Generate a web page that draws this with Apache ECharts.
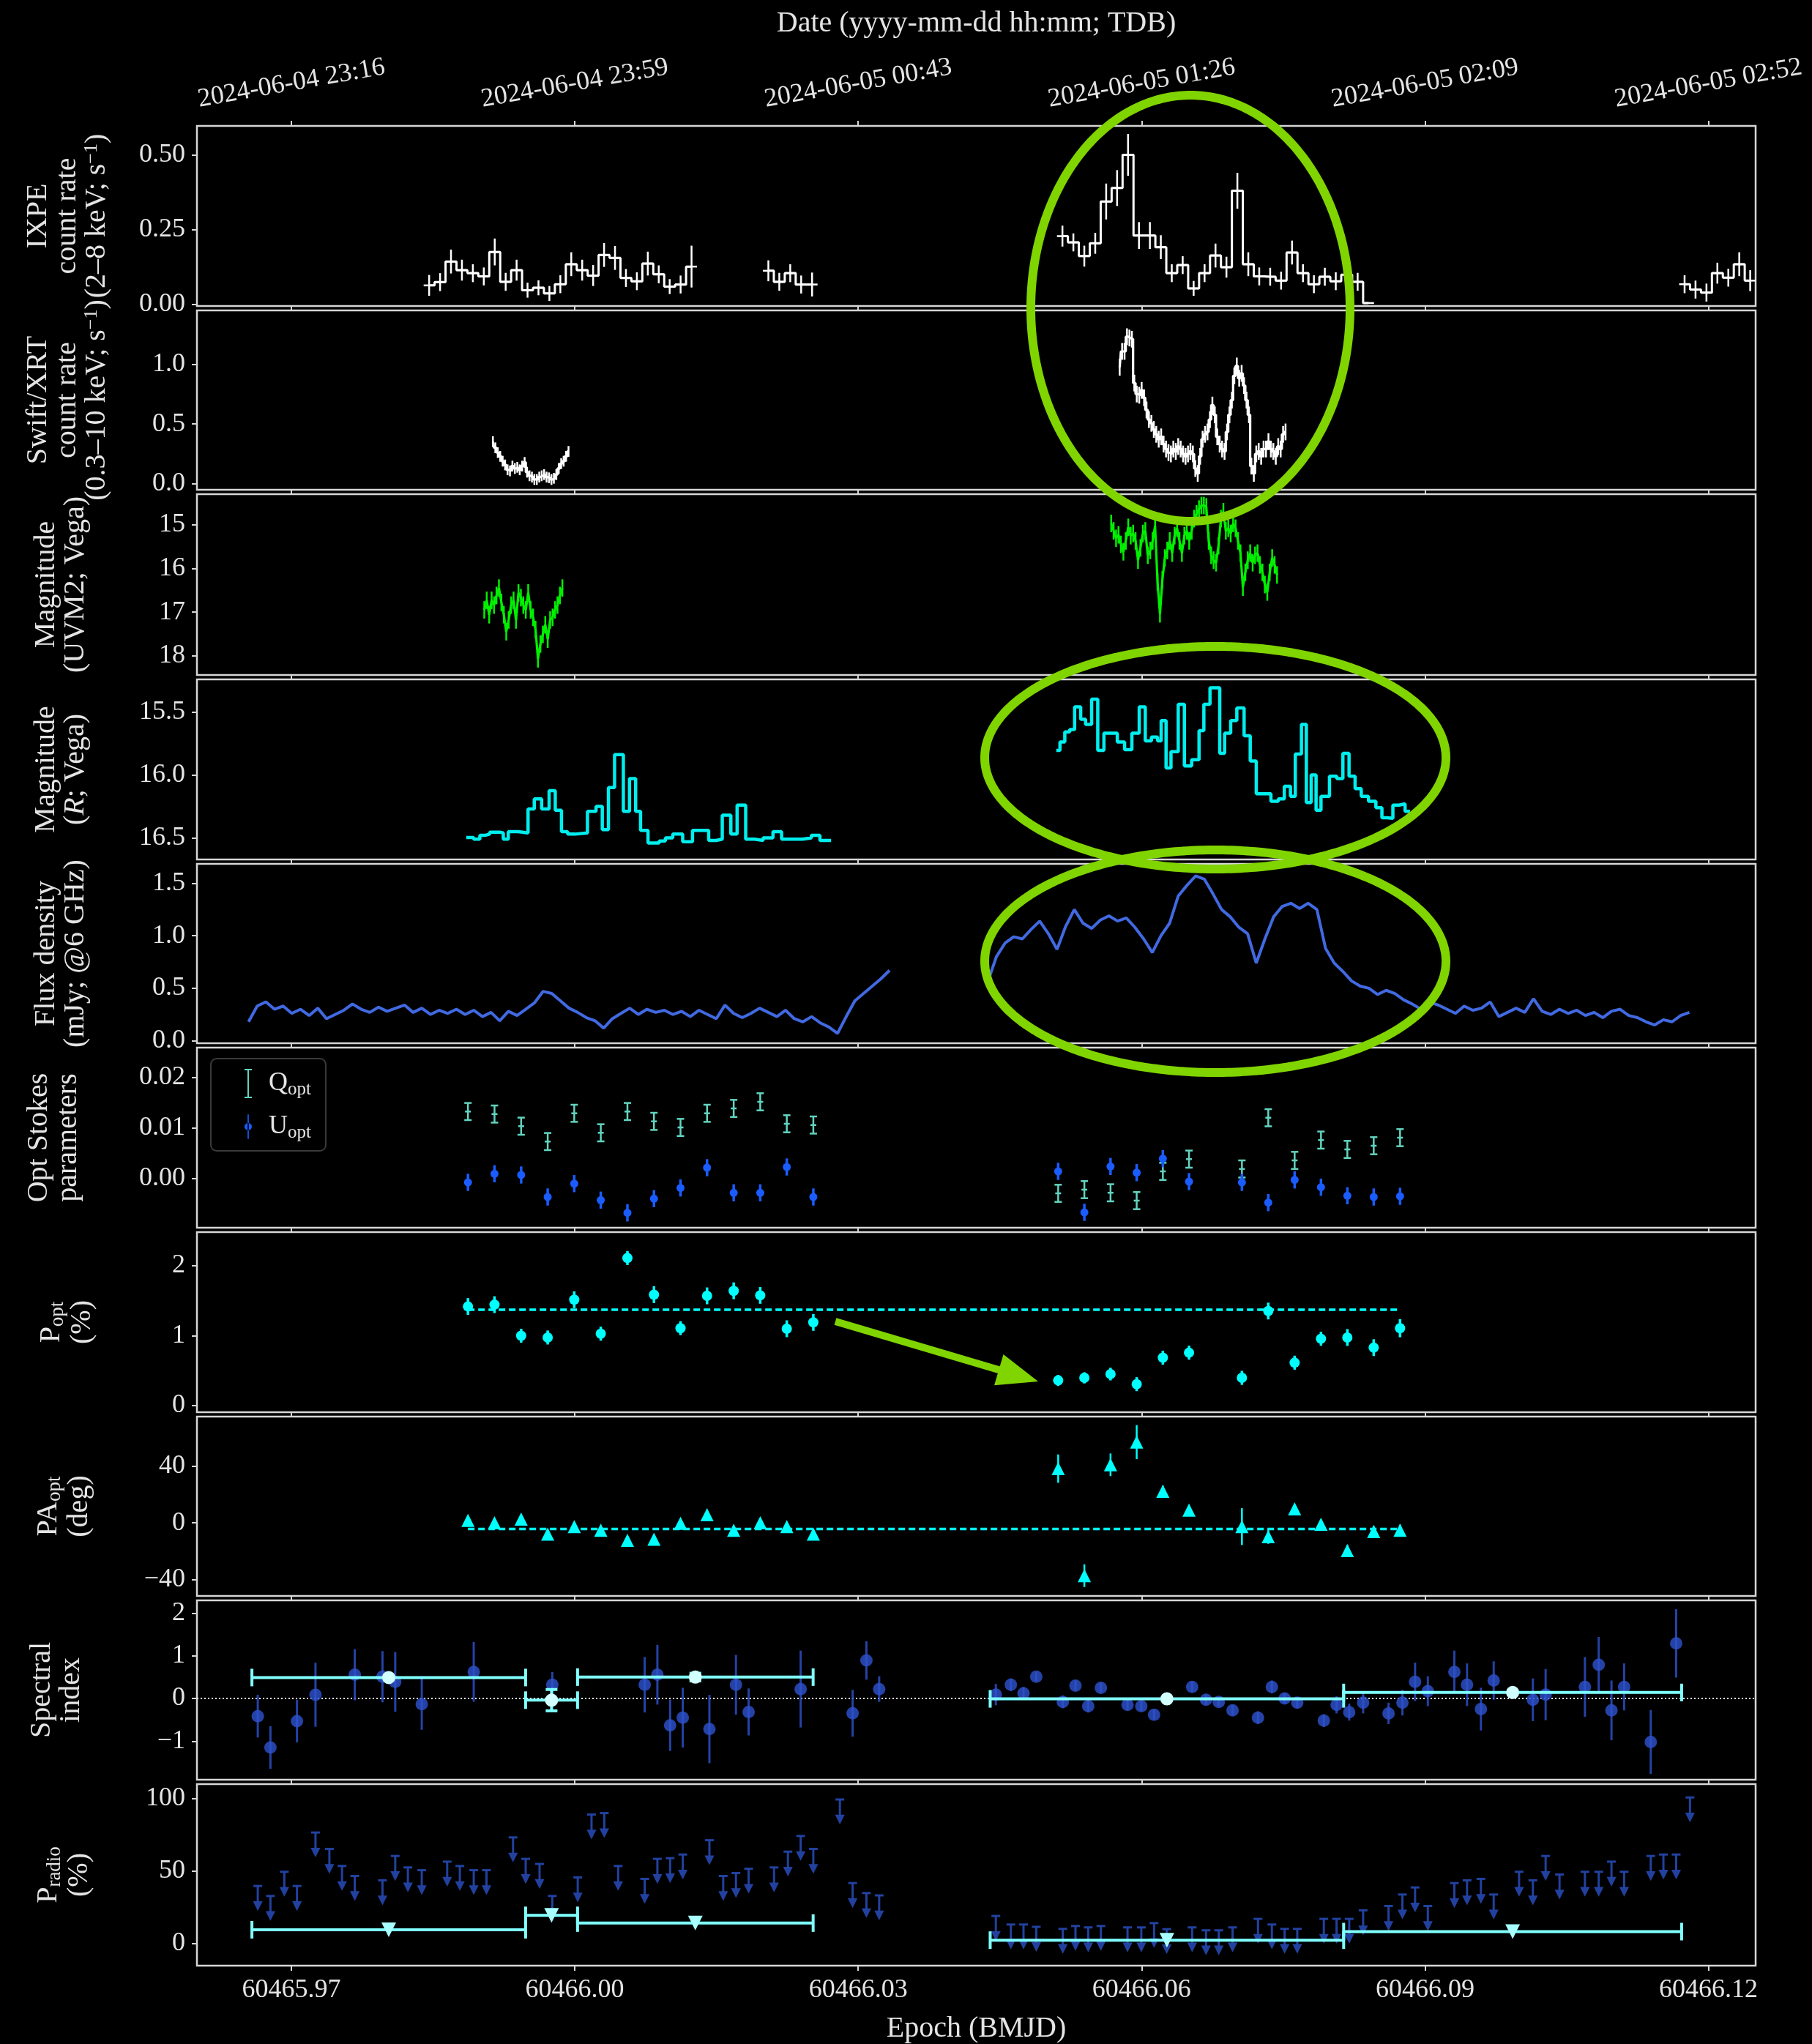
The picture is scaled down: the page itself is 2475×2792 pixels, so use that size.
<!DOCTYPE html>
<html>
<head>
<meta charset="utf-8">
<script src="https://cdn.jsdelivr.net/npm/echarts@6/dist/echarts.min.js"></script>
<style>
html,body{margin:0;padding:0;background:#000;}
#c{width:2475px;height:2792px;}
</style>
</head>
<body>
<div id="c"></div>
<script>
// ---------- time axis (BMJD) ----------
const X_MIN = 60465.96, X_MAX = 60466.125;
const xTicks = [60465.97, 60466.00, 60466.03, 60466.06, 60466.09, 60466.12];
const dateLabels = ['2024-06-04 23:16', '2024-06-04 23:59', '2024-06-05 00:43',
                    '2024-06-05 01:26', '2024-06-05 02:09', '2024-06-05 02:52'];

// ---------- IXPE 2-8 keV count rate, 100 s bins ----------
const ixpeBin = 0.0011574;
const ixpeStartA = 60465.98458, ixpeStartB = 60466.02049, ixpeStartC = 60466.05162, ixpeStartD = 60466.11748;
const ixpeRateA = [0.064,0.075,0.144,0.115,0.105,0.094,0.176,0.076,0.115,0.048,0.056,0.037,0.068,0.135,0.115,0.097,0.166,0.156,0.089,0.078,0.137,0.101,0.060,0.067,0.127];
const ixpeErrA  = [0.035,0.03,0.04,0.035,0.03,0.03,0.045,0.03,0.035,0.025,0.025,0.025,0.03,0.04,0.035,0.035,0.04,0.04,0.03,0.03,0.04,0.03,0.025,0.03,0.07];
const ixpeRateB = [0.113,0.076,0.105,0.067,0.067];
const ixpeErrB  = [0.035,0.03,0.03,0.03,0.04];
const ixpeRateC = [0.229,0.208,0.162,0.205,0.345,0.390,0.501,0.231,0.231,0.192,0.105,0.132,0.054,0.105,0.164,0.125,0.381,0.135,0.094,0.093,0.080,0.174,0.105,0.068,0.093,0.078,0.100,0.076,0.005];
const ixpeErrC  = [0.035,0.03,0.035,0.035,0.06,0.06,0.07,0.045,0.045,0.04,0.03,0.03,0.025,0.03,0.04,0.035,0.06,0.04,0.03,0.03,0.03,0.04,0.03,0.03,0.03,0.03,0.04,0.03,0.0];
const ixpeRateD = [0.068,0.050,0.040,0.105,0.090,0.135,0.080];
const ixpeErrD  = [0.03,0.03,0.03,0.035,0.03,0.04,0.035];

// ---------- Swift/XRT 0.3-10 keV count rate ----------
const xrtBin = 0.0002582;
const xrtStartA = 60465.99133, xrtStartB = 60466.05768;
const xrtRateA = [0.352,0.300,0.260,0.229,0.188,0.157,0.116,0.107,0.147,0.127,0.137,0.116,0.147,0.178,0.096,0.066,0.055,0.035,0.035,0.055,0.066,0.076,0.055,0.049,0.035,0.045,0.076,0.127,0.168,0.188,0.229,0.270];
const xrtRateB = [0.974,1.107,1.107,1.230,1.219,1.209,0.842,0.750,0.740,0.781,0.719,0.617,0.536,0.505,0.454,0.413,0.372,0.392,0.331,0.290,0.260,0.249,0.290,0.270,0.311,0.290,0.249,0.229,0.249,0.270,0.249,0.127,0.086,0.229,0.372,0.413,0.433,0.536,0.658,0.576,0.392,0.331,0.290,0.270,0.433,0.576,0.699,0.903,0.985,0.882,0.923,0.821,0.699,0.576,0.147,0.086,0.249,0.270,0.229,0.290,0.290,0.352,0.290,0.270,0.229,0.311,0.290,0.413,0.433];
const xrtErrA = 0.045, xrtErrB = 0.07;

// ---------- Swift/UVOT UVM2 magnitude ----------
const uvBin = 0.0002582;
const uvStartA = 60465.99042, uvStartB = 60466.05678;
const uvMagA = [16.95,16.73,17.06,16.73,16.84,16.62,16.45,16.78,17.06,17.45,17.18,16.84,16.73,17.18,16.56,16.67,16.84,16.95,16.56,16.95,17.12,17.40,18.07,17.73,17.51,17.29,17.62,17.18,17.12,16.95,16.84,16.62,16.45];
const uvMagB = [14.97,15.14,15.31,15.23,15.45,15.62,15.37,15.06,15.25,15.20,15.37,15.81,15.53,15.20,15.14,15.70,15.59,15.37,15.03,16.31,17.04,16.26,15.76,15.59,15.37,15.65,15.25,15.08,15.37,15.65,15.25,15.14,15.37,15.14,14.86,14.75,14.64,14.56,14.56,14.59,15.37,15.70,15.81,15.87,15.48,14.86,14.70,15.14,15.08,15.20,14.97,15.08,15.37,15.65,16.43,16.09,15.81,15.65,15.87,15.70,15.65,15.92,16.09,16.37,16.54,16.09,15.76,15.92,16.15];
const uvErr = 0.2;

// ---------- R-band magnitude (bin edges + levels) ----------
const rEdgeA = [60465.98851,60465.98929,60465.98995,60465.99047,60465.99099,60465.99204,60465.99243,60465.99296,60465.99401,60465.99505,60465.99571,60465.99649,60465.99728,60465.99793,60465.99859,60465.99924,60466.00003,60466.00134,60466.00225,60466.00291,60466.00356,60466.00421,60466.00514,60466.00579,60466.00644,60466.00696,60466.00775,60466.00893,60466.00959,60466.01037,60466.01142,60466.01246,60466.01417,60466.01496,60466.01561,60466.01652,60466.01718,60466.01809,60466.01902,60466.01993,60466.02098,60466.02189,60466.02294,60466.02412,60466.02504,60466.02595,60466.02713];
const rMagA = [16.497,16.51,16.48,16.47,16.455,16.46,16.51,16.45,16.46,16.27,16.19,16.27,16.125,16.28,16.45,16.47,16.46,16.29,16.25,16.435,16.10,15.84,16.29,16.03,16.29,16.44,16.54,16.525,16.50,16.47,16.53,16.44,16.52,16.51,16.32,16.47,16.24,16.51,16.52,16.50,16.45,16.51,16.51,16.50,16.48,16.52];
const rEdgeB = [60466.05097,60466.05136,60466.05187,60466.05239,60466.05291,60466.05355,60466.05407,60466.05471,60466.05536,60466.05601,60466.05743,60466.05820,60466.05897,60466.05975,60466.06039,60466.06104,60466.06169,60466.06207,60466.06259,60466.06311,60466.06388,60466.06453,60466.06530,60466.06608,60466.06659,60466.06724,60466.06827,60466.06879,60466.06943,60466.07008,60466.07085,60466.07150,60466.07214,60466.07369,60466.07447,60466.07511,60466.07576,60466.07627,60466.07692,60466.07744,60466.07795,60466.07847,60466.07899,60466.07989,60466.08066,60466.08131,60466.08196,60466.08260,60466.08325,60466.08402,60466.08480,60466.08544,60466.08596,60466.08660,60466.08725,60466.08789,60466.08841];
const rMagB = [15.806,15.74,15.66,15.64,15.46,15.56,15.60,15.40,15.806,15.67,15.74,15.80,15.67,15.46,15.73,15.70,15.73,15.57,15.945,15.816,15.44,15.93,15.88,15.65,15.44,15.31,15.83,15.67,15.57,15.47,15.69,15.89,16.15,16.21,16.19,16.09,16.17,15.835,15.60,16.22,16.00,16.28,16.17,16.01,16.03,15.83,16.01,16.11,16.17,16.21,16.26,16.34,16.345,16.24,16.23,16.29];

// ---------- 6 GHz flux density ----------
const fluxBin = 0.000917;
const fluxStartA = 60465.96546, fluxStartB = 60466.04371;
const fluxA = [0.18,0.33,0.37,0.30,0.33,0.26,0.30,0.24,0.31,0.21,0.25,0.29,0.35,0.30,0.27,0.32,0.28,0.31,0.34,0.27,0.31,0.25,0.29,0.26,0.30,0.25,0.29,0.23,0.27,0.19,0.28,0.24,0.30,0.36,0.47,0.45,0.38,0.31,0.27,0.22,0.19,0.12,0.21,0.26,0.31,0.25,0.30,0.27,0.29,0.25,0.28,0.23,0.29,0.25,0.21,0.34,0.26,0.22,0.26,0.31,0.27,0.23,0.29,0.21,0.18,0.23,0.17,0.13,0.07,0.23,0.38,0.45,0.52,0.59,0.67];
const fluxB = [0.56,0.80,0.93,0.99,0.97,1.06,1.14,1.02,0.87,1.09,1.25,1.12,1.07,1.15,1.19,1.14,1.17,1.08,0.97,0.84,1.00,1.12,1.38,1.48,1.57,1.54,1.40,1.25,1.18,1.08,1.02,0.74,0.97,1.18,1.28,1.31,1.26,1.31,1.25,0.88,0.74,0.66,0.57,0.52,0.50,0.44,0.48,0.45,0.39,0.35,0.30,0.37,0.34,0.30,0.26,0.33,0.29,0.31,0.37,0.23,0.27,0.31,0.27,0.40,0.28,0.25,0.30,0.26,0.29,0.24,0.27,0.22,0.28,0.30,0.24,0.22,0.18,0.15,0.20,0.18,0.24,0.27];

// ---------- optical polarimetry ----------
const polTime = [60465.98869,60465.99150,60465.99432,60465.99713,60465.99994,60466.00275,60466.00557,60466.00838,60466.01119,60466.01400,60466.01682,60466.01963,60466.02244,60466.02525,60466.05117,60466.05394,60466.05671,60466.05948,60466.06225,60466.06502,60466.07062,60466.07341,60466.07620,60466.07899,60466.08178,60466.08457,60466.08736];
const stokesQ = [0.01323,0.01273,0.01032,0.00727,0.01288,0.00901,0.01323,0.01128,0.01007,0.01288,0.01385,0.01516,0.0108,0.01055,-0.00301,-0.00228,-0.0029,-0.00446,0.00135,0.00378,0.00183,0.0120,0.00353,0.00756,0.00571,0.00644,0.00804];
const stokesU = [-0.00083,0.00087,0.00063,-0.00374,-0.00108,-0.00436,-0.00689,-0.00407,-0.00195,0.00208,-0.00291,-0.00291,0.00222,-0.00374,0.00135,-0.00679,0.00232,0.0011,0.00387,-0.00068,-0.00083,-0.00485,-0.00035,-0.0018,-0.00349,-0.00374,-0.0036];
const stokesErr = 0.0017;
const polDeg = [1.417,1.443,0.999,0.974,1.514,1.028,2.110,1.586,1.107,1.569,1.641,1.576,1.099,1.19,0.36,0.397,0.451,0.307,0.685,0.757,0.397,1.352,0.614,0.956,0.974,0.829,1.107];
const polDegErr = [0.12,0.12,0.1,0.1,0.12,0.1,0.1,0.12,0.1,0.12,0.12,0.12,0.12,0.12,0.08,0.08,0.09,0.1,0.1,0.1,0.1,0.12,0.1,0.1,0.12,0.12,0.13];
const polAng = [1.75,0,2.6,-8.0,-2.7,-5.3,-12.4,-11.6,-0.3,5.7,-5.3,0,-2.7,-8.0,38.2,-37.3,40.9,56.9,22.2,8.9,-2.7,-9.8,9.8,-1.0,-19.6,-6.2,-5.3];
const polAngErr = [2,2,2,3,3,3,3,3,2,3,3,2,3,3,10,8,8,12,4,3,13,5,3,3,4,4,4];
const polDegMean = 1.37, polAngMean = -4.4;

// ---------- radio: spectral index and polarisation upper limits ----------
const radioTime = [60465.96644,60465.96778,60465.96925,60465.97059,60465.97255,60465.97402,60465.97536,60465.97671,60465.97964,60465.98099,60465.98233,60465.98380,60465.98649,60465.98783,60465.98930,60465.99065,60465.99346,60465.99480,60465.99627,60465.99762,60466.00031,60466.00177,60466.00312,60466.00459,60466.00740,60466.00874,60466.01009,60466.01143,60466.01425,60466.01571,60466.01706,60466.01840,60466.02109,60466.02256,60466.02391,60466.02525,60466.02806,60466.02941,60466.03087,60466.03222,
  60466.04457,60466.04616,60466.04750,60466.04885,60466.05166,60466.05300,60466.05435,60466.05569,60466.05851,60466.05997,60466.06132,60466.06266,60466.06535,60466.06682,60466.06817,60466.06963,60466.07232,60466.07379,60466.07514,60466.07648,60466.07929,60466.08064,60466.08198,60466.08345,60466.08614,60466.08761,60466.08895,60466.09030,60466.09311,60466.09445,60466.09592,60466.09727,60466.09996,60466.10142,60466.10277,60466.10424,60466.10693,60466.10839,60466.10974,60466.11108,60466.11390,60466.11524,60466.11659,60466.11805];
const specIndex = [-0.415,-1.15,null,-0.53,0.086,null,null,0.556,0.51,0.388,null,-0.134,null,null,0.623,null,null,null,null,0.321,null,null,null,null,0.321,0.556,-0.63,-0.45,-0.717,null,0.321,-0.316,null,null,0.22,null,null,-0.348,0.89,0.22,
  0.09,0.32,0.12,0.51,-0.08,0.30,-0.18,0.25,-0.15,-0.18,-0.38,0.0,0.27,-0.03,-0.08,-0.28,-0.45,0.27,0.0,-0.10,-0.52,-0.15,-0.32,-0.10,-0.35,-0.10,0.39,0.17,0.62,0.32,-0.25,0.42,null,-0.03,0.09,null,0.27,0.79,-0.28,0.27,-1.02,null,1.29,null];
const specIndexErr = [0.5,0.5,null,0.5,0.75,null,null,0.6,0.6,0.7,null,0.6,null,null,0.7,null,null,null,null,0.3,null,null,null,null,0.65,0.7,0.6,0.7,0.8,null,0.7,0.55,null,null,0.9,null,null,0.55,0.45,0.3,
  0.25,0.15,0.15,0.1,0.15,0.12,0.15,0.12,0.12,0.12,0.12,0.12,0.12,0.12,0.1,0.12,0.15,0.15,0.12,0.12,0.15,0.2,0.2,0.25,0.25,0.3,0.45,0.35,0.5,0.5,0.5,0.45,null,0.5,0.6,null,0.7,0.65,0.7,0.55,0.75,null,0.8,null];
const radioPolUL = [39.8,32.9,49.6,39.8,76.7,65.4,53.6,46.7,43.7,60.5,52.6,50.7,56.6,53.6,50.7,50.7,73.3,58.5,55.0,32.9,45.7,89.1,90.1,53.6,44.7,58.5,59.0,61.5,71.4,46.7,48.7,51.7,52.6,63.5,74.3,65.4,99.5,41.8,34.9,33.3,
  19.1,13.2,13.2,11.6,10.2,12.2,11.2,12.2,11.2,11.2,14.2,10.0,11.2,9.2,9.2,11.2,17.1,13.2,10.2,10.2,17.1,17.1,17.1,23.0,26.0,33.9,38.8,26.0,41.8,43.7,44.7,33.9,49.6,43.7,60.5,47.7,49.6,49.6,56.6,49.6,60.5,61.5,61.5,100.9];
// interval averages
const avgStart = [60465.96582,60465.99479,60466.00029,60466.04397,60466.08139];
const avgEnd   = [60465.99479,60466.00029,60466.02523,60466.08139,60466.11717];
const avgSpecIndex = [0.49,-0.04,0.50,-0.01,0.14];
const avgSpecIndexErr = [0.05,0.25,0.09,0.03,0.05];
const avgRadioPol = [9.6,19.5,14.2,2.4,8.3];

// ---------- layout & style ----------
const FONT = 'Liberation Serif';
const TXT = '#e4e4e4';
const SPINE = '#d6d6d6';
const GREEN = '#80d400';
const panelTop    = [172, 424, 675, 928, 1180, 1431, 1683, 1935, 2186, 2437];
const panelBottom = [418, 669, 922, 1174, 1425, 1677, 1929, 2180, 2431, 2685];
const minus = v => (v < 0 ? '\u2212' + Math.abs(v) : String(v));
const yAxesCfg = [
  {min: -0.005, max: 0.598, ticks: [0, 0.25, 0.5], fmt: v => v.toFixed(2)},
  {min: -0.051, max: 1.45, ticks: [0, 0.5, 1.0], fmt: v => v.toFixed(1)},
  {min: 14.30, max: 18.44, ticks: [15, 16, 17, 18], fmt: v => String(v), inverse: true},
  {min: 15.243, max: 16.671, ticks: [15.5, 16.0, 16.5], fmt: v => v.toFixed(1), inverse: true},
  {min: -0.024, max: 1.685, ticks: [0, 0.5, 1.0, 1.5], fmt: v => v.toFixed(1)},
  {min: -0.00984, max: 0.02592, ticks: [0, 0.01, 0.02], fmt: v => v.toFixed(2)},
  {min: -0.094, max: 2.48, ticks: [0, 1, 2], fmt: v => String(v)},
  {min: -51.6, max: 74.9, ticks: [-40, 0, 40], fmt: minus},
  {min: -1.904, max: 2.298, ticks: [-1, 0, 1, 2], fmt: minus},
  {min: -15.2, max: 110.1, ticks: [0, 50, 100], fmt: v => String(v)}
];
const yLabels = [
  {text: 'IXPE\ncount rate\n(2\u20138 keV; s{sup|\u22121})', x: 92},
  {text: 'Swift/XRT\ncount rate\n(0.3\u201310 keV; s{sup|\u22121})', x: 92},
  {text: 'Magnitude\n(UVM2; Vega)', x: 83},
  {text: 'Magnitude\n({it|R}; Vega)', x: 83},
  {text: 'Flux density\n(mJy; @6 GHz)', x: 83},
  {text: 'Opt Stokes\nparameters', x: 73},
  {text: 'P{sub|opt}\n(%)', x: 90},
  {text: 'PA{sub|opt}\n(deg)', x: 86},
  {text: 'Spectral\nindex', x: 77},
  {text: 'P{sub|radio}\n(%)', x: 86}
];

// ---------- helpers ----------
const binned = (start, dt, vals) => vals.map((v, i) => [start + i * dt, v]);
const binnedErr = (start, dt, vals, errs) => vals.map((v, i) => [start + i * dt, v, Array.isArray(errs) ? errs[i] : errs, dt / 2]);
const stepPts = (edges, levels) => levels.map((v, i) => [edges[i], v]).concat([[edges[edges.length - 1], levels[levels.length - 1]]]);

function renderBinErr(color, lw, withX) {
  return function (params, api) {
    const t = api.value(0), v = api.value(1), e = api.value(2), h = api.value(3);
    const kids = [];
    const st = {stroke: color, lineWidth: lw};
    if (withX) {
      const a = api.coord([t - h, v]), b = api.coord([t + h, v]);
      kids.push({type: 'line', shape: {x1: a[0], y1: a[1], x2: b[0], y2: b[1]}, style: st});
    }
    if (e > 0) {
      const lo = api.coord([t, v - e]), hi = api.coord([t, v + e]);
      kids.push({type: 'line', shape: {x1: lo[0], y1: lo[1], x2: hi[0], y2: hi[1]}, style: st});
    }
    return {type: 'group', children: kids};
  };
}

function renderMarks(o) {
  return function (params, api) {
    const t = api.value(0), v = api.value(1), e = api.value(2);
    const c = api.coord([t, v]);
    const lo = api.coord([t, v - e]), hi = api.coord([t, v + e]);
    const st = {stroke: o.color, lineWidth: o.lw, opacity: o.opacity || 1};
    const kids = [{type: 'line', shape: {x1: c[0], y1: lo[1], x2: c[0], y2: hi[1]}, style: st}];
    if (o.cap) {
      kids.push({type: 'line', shape: {x1: c[0] - o.cap, y1: lo[1], x2: c[0] + o.cap, y2: lo[1]}, style: st});
      kids.push({type: 'line', shape: {x1: c[0] - o.cap, y1: hi[1], x2: c[0] + o.cap, y2: hi[1]}, style: st});
    }
    if (o.marker === 'circle') {
      kids.push({type: 'circle', shape: {cx: c[0], cy: c[1], r: o.size}, style: {fill: o.fill || o.color, opacity: o.opacity || 1}});
    } else if (o.marker === 'triangle') {
      const s = o.size;
      kids.push({type: 'polygon', shape: {points: [[c[0], c[1] - s], [c[0] - s, c[1] + s], [c[0] + s, c[1] + s]]}, style: {fill: o.color}});
    } else if (o.marker === 'dash') {
      kids.push({type: 'line', shape: {x1: c[0] - o.size, y1: c[1], x2: c[0] + o.size, y2: c[1]}, style: st});
    }
    return {type: 'group', children: kids};
  };
}

function renderUpperLimit(o) {
  return function (params, api) {
    const c = api.coord([api.value(0), api.value(1)]);
    const tip = c[1] + o.len;
    const st = {stroke: o.color, lineWidth: o.lw, opacity: o.opacity};
    return {type: 'group', children: [
      {type: 'line', shape: {x1: c[0] - o.cap, y1: c[1], x2: c[0] + o.cap, y2: c[1]}, style: st},
      {type: 'line', shape: {x1: c[0], y1: c[1], x2: c[0], y2: tip - o.head}, style: st},
      {type: 'polygon', shape: {points: [[c[0] - o.head * 0.55, tip - o.head * 1.1], [c[0] + o.head * 0.55, tip - o.head * 1.1], [c[0], tip]]}, style: {fill: o.color, opacity: o.opacity}}
    ]};
  };
}

function renderAverage(o) {
  return function (params, api) {
    const t0 = api.value(0), t1 = api.value(1), v = api.value(2), e = api.value(3);
    const tm = (t0 + t1) / 2;
    const a = api.coord([t0, v]), b = api.coord([t1, v]), m = api.coord([tm, v]);
    const st = {stroke: o.color, lineWidth: o.lw};
    const kids = [
      {type: 'line', shape: {x1: a[0], y1: a[1], x2: b[0], y2: b[1]}, style: st},
      {type: 'line', shape: {x1: a[0], y1: a[1] - o.cap, x2: a[0], y2: a[1] + o.cap}, style: st},
      {type: 'line', shape: {x1: b[0], y1: b[1] - o.cap, x2: b[0], y2: b[1] + o.cap}, style: st}
    ];
    if (e > 0) {
      const lo = api.coord([tm, v - e]), hi = api.coord([tm, v + e]);
      kids.push({type: 'line', shape: {x1: m[0], y1: lo[1], x2: m[0], y2: hi[1]}, style: st});
      kids.push({type: 'line', shape: {x1: m[0] - 8, y1: lo[1], x2: m[0] + 8, y2: lo[1]}, style: st});
      kids.push({type: 'line', shape: {x1: m[0] - 8, y1: hi[1], x2: m[0] + 8, y2: hi[1]}, style: st});
    }
    if (o.marker === 'circle') {
      kids.push({type: 'circle', shape: {cx: m[0], cy: m[1], r: o.size}, style: {fill: o.fill}});
    } else {
      const s = o.size;
      kids.push({type: 'polygon', shape: {points: [[m[0] - s, m[1] - s], [m[0] + s, m[1] - s], [m[0], m[1] + s]]}, style: {fill: o.fill}});
    }
    return {type: 'group', children: kids};
  };
}

function custom(k, data, renderItem, extra) {
  return Object.assign({
    type: 'custom', xAxisIndex: k, yAxisIndex: k, coordinateSystem: 'cartesian2d',
    data: data, renderItem: renderItem, clip: true, silent: true, z: 4
  }, extra || {});
}
function line(k, data, color, width, step, extra) {
  return Object.assign({
    type: 'line', xAxisIndex: k, yAxisIndex: k, data: data, step: step || false,
    showSymbol: false, symbol: 'none', silent: true, z: 3,
    lineStyle: {color: color, width: width}
  }, extra || {});
}

// ---------- series ----------
const series = [];
const WHITE = '#ffffff';
// IXPE
[[ixpeStartA, ixpeRateA, ixpeErrA], [ixpeStartB, ixpeRateB, ixpeErrB],
 [ixpeStartC, ixpeRateC, ixpeErrC], [ixpeStartD, ixpeRateD, ixpeErrD]].forEach(s => {
  series.push(line(0, binned(s[0], ixpeBin, s[1]), WHITE, 3, 'middle'));
  series.push(custom(0, binnedErr(s[0], ixpeBin, s[1], s[2]), renderBinErr(WHITE, 2.5, true)));
});
// XRT
[[xrtStartA, xrtRateA, xrtErrA], [xrtStartB, xrtRateB, xrtErrB]].forEach(s => {
  series.push(line(1, binned(s[0], xrtBin, s[1]), WHITE, 3.2, 'middle'));
  series.push(custom(1, binnedErr(s[0], xrtBin, s[1], s[2]), renderBinErr(WHITE, 2.5, false)));
});
// UVM2
const UVCOL = '#00f000';
[[uvStartA, uvMagA], [uvStartB, uvMagB]].forEach(s => {
  series.push(line(2, binned(s[0], uvBin, s[1]), UVCOL, 3.2));
  series.push(custom(2, binnedErr(s[0], uvBin, s[1], uvErr), renderBinErr(UVCOL, 2.5, false)));
});
// R band
const RCOL = '#00eeee';
series.push(line(3, stepPts(rEdgeA, rMagA), RCOL, 4.5, 'end'));
series.push(line(3, stepPts(rEdgeB, rMagB), RCOL, 4.5, 'end'));
// flux density
const FLUXCOL = '#4169e1';
series.push(line(4, binned(fluxStartA, fluxBin, fluxA), FLUXCOL, 4));
series.push(line(4, binned(fluxStartB, fluxBin, fluxB), FLUXCOL, 4));
// Stokes parameters
const QCOL = '#62d4c0', UCOL = '#1a5cff';
series.push(custom(5, polTime.map((t, i) => [t, stokesQ[i], stokesErr]),
  renderMarks({color: QCOL, lw: 2.5, cap: 5, marker: 'dash', size: 4}),
  {name: 'Q_opt', itemStyle: {color: QCOL}}));
series.push(custom(5, polTime.map((t, i) => [t, stokesU[i], stokesErr]),
  renderMarks({color: UCOL, lw: 3.5, marker: 'circle', size: 5.5}),
  {name: 'U_opt', itemStyle: {color: UCOL}}));
// polarisation degree / angle
const PCOL = '#00ffff';
series.push(line(6, [[polTime[0], polDegMean], [polTime[polTime.length - 1], polDegMean]], PCOL, 3.5, false,
  {lineStyle: {color: PCOL, width: 3.5, type: [9, 5]}}));
series.push(custom(6, polTime.map((t, i) => [t, polDeg[i], polDegErr[i]]),
  renderMarks({color: PCOL, lw: 3.5, marker: 'circle', size: 7})));
series.push(line(7, [[polTime[0], polAngMean], [polTime[polTime.length - 1], polAngMean]], PCOL, 3.5, false,
  {lineStyle: {color: PCOL, width: 3.5, type: [9, 5]}}));
series.push(custom(7, polTime.map((t, i) => [t, polAng[i], polAngErr[i]]),
  renderMarks({color: PCOL, lw: 2.5, marker: 'triangle', size: 9})));
// spectral index
const SICOL = '#2e52d0', AVGCOL = '#80ffff', AVGFILL = '#d2ffff';
series.push(line(8, [[X_MIN, 0], [X_MAX, 0]], '#ffffff', 2, false,
  {lineStyle: {color: '#e8e8e8', width: 2, type: [2, 3]}, z: 2}));
series.push(custom(8, radioTime.map((t, i) => [t, specIndex[i], specIndexErr[i]]).filter(d => d[1] !== null),
  renderMarks({color: SICOL, lw: 3, marker: 'circle', size: 8.5, opacity: 0.8})));
series.push(custom(8, avgStart.map((t, i) => [t, avgEnd[i], avgSpecIndex[i], avgSpecIndexErr[i]]),
  renderAverage({color: AVGCOL, lw: 4, cap: 12, marker: 'circle', size: 9, fill: AVGFILL}), {z: 5}));
// radio polarisation upper limits
const ULCOL = '#2444a8';
series.push(custom(9, radioTime.map((t, i) => [t, radioPolUL[i]]),
  renderUpperLimit({color: ULCOL, lw: 3, cap: 6, len: 34, head: 12, opacity: 0.95})));
series.push(custom(9, avgStart.map((t, i) => [t, avgEnd[i], avgRadioPol[i], 0]),
  renderAverage({color: AVGCOL, lw: 4, cap: 12, marker: 'tri', size: 10, fill: '#a8ffff'}), {z: 5}));

// ---------- axes ----------
const tickLabelStyle = {color: TXT, fontFamily: FONT, fontSize: 36};
const grids = panelTop.map((t, k) => ({
  left: 269, width: 2129, top: t, height: panelBottom[k] - t,
  show: true, borderColor: SPINE, borderWidth: 2.5, backgroundColor: 'transparent'
}));
const xAxes = panelTop.map((t, k) => ({
  type: 'value', gridIndex: k, min: X_MIN, max: X_MAX, position: 'bottom',
  axisLine: {show: false, onZero: false}, splitLine: {show: false},
  axisTick: {show: true, length: 7, customValues: xTicks, lineStyle: {color: SPINE, width: 2}},
  axisLabel: k === 9
    ? Object.assign({show: true, customValues: xTicks, formatter: v => v.toFixed(2), margin: 16}, tickLabelStyle)
    : {show: false},
  name: k === 9 ? 'Epoch (BMJD)' : '', nameLocation: 'middle', nameGap: 66,
  nameTextStyle: {color: TXT, fontFamily: FONT, fontSize: 40}
}));
xAxes.push({
  type: 'value', gridIndex: 0, min: X_MIN, max: X_MAX, position: 'top',
  axisLine: {show: false, onZero: false}, splitLine: {show: false},
  axisTick: {show: true, length: 7, customValues: xTicks, lineStyle: {color: SPINE, width: 2}},
  axisLabel: Object.assign({
    show: true, customValues: xTicks, rotate: -10, margin: 58, align: 'center', verticalAlign: 'middle',
    formatter: v => {
      const i = xTicks.findIndex(t => Math.abs(t - v) < 1e-6);
      return i >= 0 ? dateLabels[i] : '';
    }
  }, tickLabelStyle),
  name: 'Date (yyyy-mm-dd hh:mm; TDB)', nameLocation: 'middle', nameGap: 120,
  nameTextStyle: {color: TXT, fontFamily: FONT, fontSize: 40}
});
const yAxes = yAxesCfg.map((c, k) => ({
  type: 'value', gridIndex: k, min: c.min, max: c.max, inverse: !!c.inverse,
  axisLine: {show: false, onZero: false}, splitLine: {show: false},
  axisTick: {show: true, length: 7, customValues: c.ticks, lineStyle: {color: SPINE, width: 2}},
  axisLabel: Object.assign({show: true, customValues: c.ticks, formatter: c.fmt, margin: 16}, tickLabelStyle)
}));

// ---------- y-axis titles and annotations ----------
const labelRich = {
  sup: {fontSize: 26, verticalAlign: 'top', lineHeight: 40, fontFamily: FONT, fill: TXT},
  sub: {fontSize: 27, verticalAlign: 'bottom', lineHeight: 44, fontFamily: FONT, fill: TXT},
  it: {fontStyle: 'italic', fontSize: 40, lineHeight: 40, fontFamily: FONT, fill: TXT}
};
const graphics = yLabels.map((l, k) => ({
  type: 'text', x: l.x, y: (panelTop[k] + panelBottom[k]) / 2, rotation: Math.PI / 2, z: 50,
  style: {text: l.text, fill: TXT, fontSize: 40, fontFamily: FONT,
          lineHeight: 40, align: 'center', verticalAlign: 'middle', rich: labelRich}
}));
function ellipsePoints(cx, cy, rx, ry) {
  const pts = [];
  for (let i = 0; i < 360; i++) {
    const a = i / 360 * 2 * Math.PI;
    pts.push([cx + rx * Math.cos(a), cy + ry * Math.sin(a)]);
  }
  return pts;
}
[[1626, 421, 218, 291], [1660, 1035, 315, 152], [1660, 1313, 315, 152]].forEach(e => {
  graphics.push({type: 'polygon', z: 200, silent: true,
    shape: {points: ellipsePoints(e[0], e[1], e[2], e[3])},
    style: {fill: 'none', stroke: GREEN, lineWidth: 12}});
});
// arrow pointing at the depolarised points
const arrowTail = [1141, 1805], arrowTip = [1418, 1887];
(function () {
  const dx = arrowTip[0] - arrowTail[0], dy = arrowTip[1] - arrowTail[1];
  const L = Math.hypot(dx, dy), ux = dx / L, uy = dy / L, nx = -uy, ny = ux;
  const bx = arrowTip[0] - 56 * ux, by = arrowTip[1] - 56 * uy;
  graphics.push({type: 'line', z: 200, silent: true,
    shape: {x1: arrowTail[0], y1: arrowTail[1], x2: bx + 4 * ux, y2: by + 4 * uy},
    style: {stroke: GREEN, lineWidth: 10}});
  graphics.push({type: 'polygon', z: 200, silent: true,
    shape: {points: [[arrowTip[0], arrowTip[1]], [bx + 22 * nx, by + 22 * ny], [bx - 22 * nx, by - 22 * ny]]},
    style: {fill: GREEN}});
})();

const option = {
  backgroundColor: '#000000',
  animation: false,
  textStyle: {fontFamily: FONT},
  grid: grids,
  xAxis: xAxes,
  yAxis: yAxes,
  legend: {
    show: true, orient: 'vertical', left: 288, top: 1446, selectedMode: false,
    data: [
      {name: 'Q_opt', icon: 'path://M0,0H10V2H6V38H10V40H0V38H4V2H0Z'},
      {name: 'U_opt', icon: 'path://M4,0H6V40H4Z M5,14A6,6,0,1,0,5,26A6,6,0,1,0,5,14Z'}
    ],
    itemWidth: 10, itemHeight: 40, itemGap: 20,
    backgroundColor: 'rgba(0,0,0,0.85)', borderColor: '#3a3a3a', borderWidth: 2, borderRadius: 8,
    padding: [14, 20, 12, 46],
    formatter: n => (n === 'Q_opt' ? 'Q{sub|opt}' : 'U{sub|opt}'),
    textStyle: {color: TXT, fontFamily: FONT, fontSize: 36, padding: [0, 0, 0, 18],
      rich: {sub: {fontSize: 25, verticalAlign: 'bottom', lineHeight: 42, fontFamily: FONT, color: TXT, padding: [0, 0, 0, 0]}}}
  },
  series: series,
  graphic: graphics
};
const chart = echarts.init(document.getElementById('c'), null, {renderer: 'canvas', width: 2475, height: 2792});
chart.setOption(option);
</script>
</body>
</html>
